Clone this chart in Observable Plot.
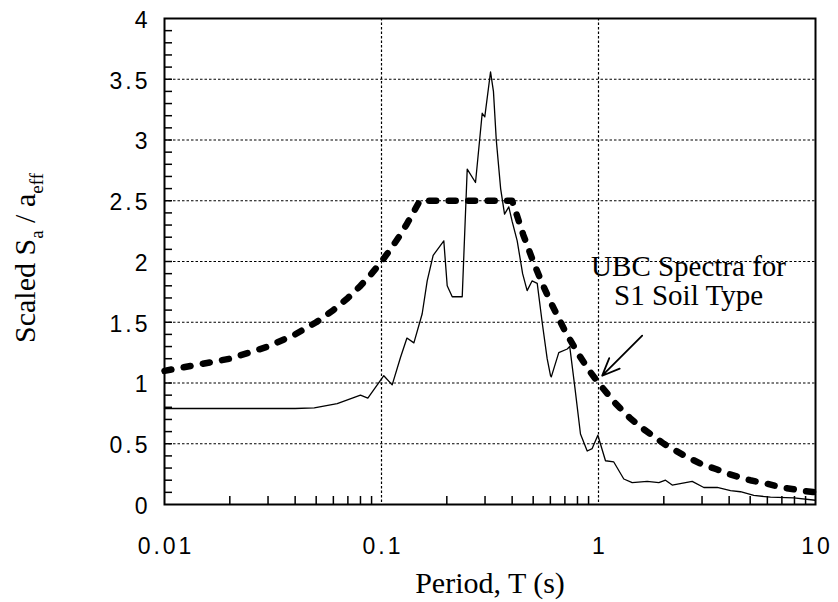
<!DOCTYPE html>
<html><head><meta charset="utf-8">
<script src="https://cdn.jsdelivr.net/npm/d3@7"></script>
<script src="https://cdn.jsdelivr.net/npm/@observablehq/plot@0.6"></script>
<style>
body{margin:0;background:#fff;}
#chart svg{display:block;}
g[aria-label="x-axis tick label"] text, g[aria-label="y-axis tick label"] text{letter-spacing:3px;}
</style></head><body><div id="chart"></div>
<script>
// Recorded (scaled) spectrum
const periodRecord = [0.01,0.02,0.03,0.04,0.049,0.0625,0.08,0.0865,0.1025,0.112,0.1223,0.131,0.141,0.154,0.1624,0.173,0.1937,0.2008,0.2118,0.2355,0.2483,0.2712,0.2911,0.2992,0.318,0.328,0.338,0.354,0.369,0.386,0.400,0.422,0.447,0.469,0.494,0.522,0.55,0.58,0.601,0.606,0.656,0.718,0.737,0.78,0.826,0.887,0.935,0.993,1.077,1.176,1.308,1.43,1.677,1.897,2.036,2.186,2.703,3.057,3.524,4.058,4.51,5.196,6.2,7.94,10];
const saRecord     = [0.79,0.79,0.79,0.79,0.795,0.83,0.90,0.875,1.06,0.985,1.21,1.37,1.33,1.57,1.84,2.05,2.17,1.80,1.71,1.71,2.76,2.65,3.22,3.19,3.56,3.40,3.00,2.60,2.39,2.45,2.33,2.17,1.90,1.76,1.84,1.82,1.50,1.20,1.06,1.05,1.25,1.28,1.30,0.95,0.58,0.44,0.46,0.57,0.36,0.35,0.21,0.18,0.19,0.18,0.20,0.16,0.19,0.14,0.14,0.115,0.105,0.075,0.06,0.055,0.035];
// UBC design spectrum, S1 soil
const periodUBC = [0.01,0.02,0.03,0.04,0.05,0.06,0.07,0.08,0.09,0.1,0.11,0.12,0.13,0.14,0.15,0.4,0.45,0.5,0.55,0.6,0.7,0.8,0.9,1,1.2,1.4,1.6,1.8,2,2.5,3,3.5,4,5,6,7,8,9,10];
const saUBC     = [1.1,1.2,1.3,1.4,1.5,1.6,1.7,1.8,1.9,2.0,2.1,2.2,2.3,2.4,2.5,2.5,2.22,2.0,1.82,1.67,1.43,1.25,1.11,1.0,0.83,0.71,0.625,0.56,0.5,0.4,0.33,0.29,0.25,0.2,0.17,0.14,0.125,0.11,0.1];

const xTicks = [0.01,0.1,1,10];
const xTickLabels = ["0.01","0.1","1","10"];
const yTicks = [0,0.5,1,1.5,2,2.5,3,3.5,4];
const yTickLabels = ["0","0.5","1","1.5","2","2.5","3","3.5","4"];
const xGrid = [0.1,1];
const yGrid = [0.5,1,1.5,2,2.5,3,3.5];
const yMinor = [0.1,0.2,0.3,0.4,0.5,0.6,0.7,0.8,0.9,1,1.1,1.2,1.3,1.4,1.5,1.6,1.7,1.8,1.9,2,2.1,2.2,2.3,2.4,2.5,2.6,2.7,2.8,2.9,3,3.1,3.2,3.3,3.4,3.5,3.6,3.7,3.8,3.9];
const xMinor = [0.02,0.03,0.04,0.05,0.06,0.07,0.08,0.09,0.2,0.3,0.4,0.5,0.6,0.7,0.8,0.9,2,3,4,5,6,7,8,9];

const xTitle = "Period, T (s)";
const yTitleParts = [["Scaled S", false], ["a", true], [" / a", false], ["eff", true]];
const noteText = ["UBC Spectra for", "S1 Soil Type"];
const notePeriod = [2.6];
const noteSa = [1.64];
const arrowPeriod = [1.59, 1.04];
const arrowSa = [1.39, 1.06];

const record = periodRecord.map((T, i) => ({T, sa: saRecord[i]}));
const ubc = periodUBC.map((T, i) => ({T, sa: saUBC[i]}));

const W = 838, H = 602, mL = 164, mR = 23, mT = 18, mB = 98;
const frameW = W - mL - mR, frameH = H - mT - mB;
const serif = "Liberation Serif, Times New Roman, serif";
const sans = "Liberation Sans, Arial, Helvetica, sans-serif";

const plot = Plot.plot({
  width: W, height: H,
  marginLeft: mL, marginRight: mR, marginTop: mT, marginBottom: mB,
  style: {fontFamily: sans, fontSize: "23px", color: "#000", background: "#fff"},
  x: {type: "log", domain: [0.01, 10], label: null},
  y: {domain: [0, 4], label: null},
  marks: [
    Plot.ruleY(yGrid, {stroke: "#000", strokeWidth: 1.2, strokeDasharray: "2.5,2"}),
    Plot.ruleX(xGrid, {stroke: "#000", strokeWidth: 1.2, strokeDasharray: "2.5,2"}),
    Plot.tickY(yMinor, {y: d => d, insetRight: frameW - 8, stroke: "#000", strokeWidth: 1.5}),
    Plot.tickX(xMinor, {x: d => d, insetTop: frameH - 8, stroke: "#000", strokeWidth: 1.5}),
    Plot.line(ubc, {x: "T", y: "sa", stroke: "#000", strokeWidth: 6.5, strokeDasharray: "7,12.5", strokeLinecap: "round"}),
    Plot.line(record, {x: "T", y: "sa", stroke: "#000", strokeWidth: 1.3}),
    Plot.arrow([0], {x1: () => arrowPeriod[0], y1: () => arrowSa[0], x2: () => arrowPeriod[1], y2: () => arrowSa[1], stroke: "#000", strokeWidth: 1.8, headLength: 26, headAngle: 46}),
    Plot.text([noteText.join("\n")], {x: () => notePeriod[0], y: () => noteSa[0], text: d => d, textAnchor: "middle", lineAnchor: "bottom", lineHeight: 1, fontFamily: serif, fontSize: 29, fill: "#000"}),
    Plot.text([xTitle], {text: d => d, frameAnchor: "bottom", dy: 88, lineAnchor: "bottom", fontFamily: serif, fontSize: 30, fill: "#000"}),
    Plot.axisY({ticks: yTicks, tickFormat: d => yTickLabels[yTicks.indexOf(d)], tickSize: 0, tickPadding: 14, dy: 2, fontSize: 23, fontFamily: sans, label: null}),
    Plot.axisX({ticks: xTicks, tickFormat: d => xTickLabels[xTicks.indexOf(d)], tickSize: 0, tickPadding: 33, dx: 1.5, fontSize: 23, fontFamily: sans, label: null}),
    Plot.frame({stroke: "#000", strokeWidth: 2})
  ]
});

const svg = d3.select(plot);
const t = svg.append("text")
  .attr("transform", `translate(35,258) rotate(-90)`)
  .attr("text-anchor", "middle")
  .attr("font-family", serif)
  .attr("font-size", 30)
  .attr("fill", "#000");
let sub = false;
yTitleParts.forEach(([s, isSub]) => {
  const sp = t.append("tspan").text(s);
  if (isSub && !sub) { sp.attr("dy", 8).attr("font-size", 19); sub = true; }
  else if (!isSub && sub) { sp.attr("dy", -8); sub = false; }
  else if (isSub) sp.attr("font-size", 19);
});
document.getElementById("chart").appendChild(plot);
</script></body></html>
